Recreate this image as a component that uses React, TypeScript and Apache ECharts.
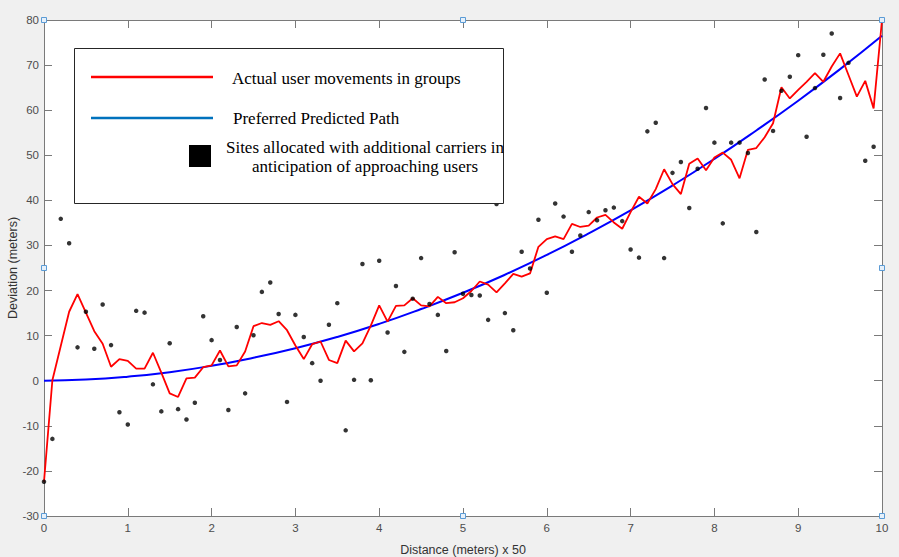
import React, { useEffect, useRef } from "react";
import * as echarts from "echarts";

// Distance (meters) x 50 — sample positions
const distance = [
  0, 0.1, 0.2, 0.3, 0.4, 0.5, 0.6, 0.7, 0.8, 0.9,
  1, 1.1, 1.2, 1.3, 1.4, 1.5, 1.6, 1.7, 1.8, 1.9,
  2, 2.1, 2.2, 2.3, 2.4, 2.5, 2.6, 2.7, 2.8, 2.9,
  3, 3.1, 3.2, 3.3, 3.4, 3.5, 3.6, 3.7, 3.8, 3.9,
  4, 4.1, 4.2, 4.3, 4.4, 4.5, 4.6, 4.7, 4.8, 4.9,
  5, 5.1, 5.2, 5.3, 5.4, 5.5, 5.6, 5.7, 5.8, 5.9,
  6, 6.1, 6.2, 6.3, 6.4, 6.5, 6.6, 6.7, 6.8, 6.9,
  7, 7.1, 7.2, 7.3, 7.4, 7.5, 7.6, 7.7, 7.8, 7.9,
  8, 8.1, 8.2, 8.3, 8.4, 8.5, 8.6, 8.7, 8.8, 8.9,
  9, 9.1, 9.2, 9.3, 9.4, 9.5, 9.6, 9.7, 9.8, 9.9,
  10,
];

// Actual user movements in groups (red)
const actualMovement = [
  -22.4, 0.1, 7.7, 15.3, 19.2, 15.1, 11.0, 8.2, 3.1, 4.8,
  4.4, 2.7, 2.7, 6.2, 1.8, -2.8, -3.6, 0.5, 0.7, 3.0,
  3.4, 6.7, 3.2, 3.4, 6.5, 12.1, 12.8, 12.4, 13.2, 11.2,
  7.8, 4.8, 8.1, 8.7, 4.6, 3.9, 8.9, 6.5, 8.3, 12.2,
  16.7, 13.1, 16.6, 16.7, 18.3, 16.7, 16.5, 18.6, 17.2, 17.4,
  18.3, 19.9, 22.0, 21.3, 19.6, 21.6, 23.7, 23.1, 23.8, 29.7,
  31.4, 32.0, 31.4, 34.8, 34.1, 34.4, 36.2, 36.8, 35.1, 33.7,
  37.4, 40.8, 39.3, 42.5, 46.9, 43.6, 41.4, 48.1, 49.3, 46.7,
  49.5, 50.6, 49.0, 44.9, 51.2, 51.6, 54.0, 57.1, 65.1, 62.6,
  64.5, 66.3, 68.2, 66.3, 69.7, 72.6, 67.8, 63.0, 66.5, 60.4,
  80.0,
];

// Sites allocated with additional carriers (black dots)
const allocatedSites: (number | null)[] = [
  -22.4, -12.9, 35.9, 30.5, 7.4, 15.3, 7.1, 16.9, 7.9, -7.0,
  -9.7, 15.5, 15.1, -0.8, -6.8, 8.3, -6.3, -8.6, -4.9, 14.3,
  9.0, 4.6, -6.5, 11.9, -2.8, 10.1, 19.7, 21.8, 14.8, -4.7,
  14.6, 9.7, 3.9, 0.0, 12.4, 17.2, -11.0, 0.2, 25.9, 0.1,
  26.6, 10.7, 21.0, 6.4, 18.2, 27.2, 17.0, 14.6, 6.6, 28.5,
  19.3, 19.0, 18.9, 13.5, 39.2, 15.0, 11.2, 28.6, 24.9, 35.7,
  19.5, 39.3, 36.4, 28.6, 32.2, 37.4, 35.6, 37.8, 38.4, 35.4,
  29.1, 27.3, 55.3, 57.2, 27.2, 46.1, 48.5, 38.3, 47.0, 60.5,
  52.8, 34.9, 52.8, 52.8, 50.5, 33.0, 66.8, 55.4, 64.3, 67.4,
  72.2, 54.1, 64.9, 72.3, 77.0, 62.7, 70.5, null, 48.8, 51.9,
  null,
];

// Preferred predicted path (blue), read at every 0.5
const predictedDistance = [0, 0.5, 1, 1.5, 2, 2.5, 3, 3.5, 4, 4.5, 5, 5.5, 6, 6.5, 7, 7.5, 8, 8.5, 9, 9.5, 10];
const predictedPath = [0, 0.25, 0.9, 1.9, 3.3, 5.1, 7.2, 9.7, 12.6, 15.9, 19.5, 23.5, 27.9, 32.7, 37.8, 43.3, 49.2, 55.5, 62.1, 69.1, 76.5];

const legendLabels = [
  "Actual user movements in groups",
  "Preferred Predicted Path",
  "Sites allocated with additional carriers in",
  "anticipation of approaching users",
];

const AXIS_COLOR = "#7a7a7a";
const LABEL_COLOR = "#4d4d4d";
const SANS = "'Liberation Sans', Arial, sans-serif";
const SERIF = "'Liberation Serif', 'Times New Roman', serif";

export default function App() {
  const ref = useRef<HTMLDivElement>(null);

  useEffect(() => {
    document.body.style.margin = "0";
    const chart = echarts.init(ref.current!, null, { renderer: "svg" });

    const axisLine = { show: true, onZero: false, lineStyle: { color: AXIS_COLOR, width: 1 } };
    const axisTick = { show: true, inside: true, length: 8, lineStyle: { color: AXIS_COLOR, width: 1 } };

    const handles = [
      [44, 20], [463, 20], [882, 20],
      [44, 268], [882, 268],
      [44, 516], [463, 516], [882, 516],
    ].map(([cx, cy]) => ({
      type: "rect",
      z: 200,
      shape: { x: cx - 2.5, y: cy - 2.5, width: 5, height: 5 },
      style: { fill: "#e6f0fa", stroke: "#5b9bd5", lineWidth: 1 },
    }));

    const textEl = (text: string, x: number, y: number, align: string) => ({
      type: "text",
      z: 101,
      x,
      y,
      style: {
        text,
        fill: "#000",
        font: `17px ${SERIF}`,
        fontSize: 17,
        fontFamily: SERIF,
        align,
        textAlign: align,
        verticalAlign: "middle",
        textVerticalAlign: "middle",
      },
    });

    chart.setOption({
      animation: false,
      backgroundColor: "#f0f0f0",
      textStyle: { fontFamily: SANS },
      grid: {
        left: 44,
        right: 17,
        top: 20,
        bottom: 41,
        containLabel: false,
        outerBoundsMode: "none",
        show: true,
        backgroundColor: "#ffffff",
        borderWidth: 0,
      },
      xAxis: [
        {
          type: "value",
          min: 0,
          max: 10,
          interval: 1,
          position: "bottom",
          axisLine,
          axisTick,
          splitLine: { show: false },
          axisLabel: { color: LABEL_COLOR, fontSize: 11.5, fontFamily: SANS, margin: 6 },
          name: "Distance (meters) x 50",
          nameLocation: "middle",
          nameGap: 27,
          nameTextStyle: { color: "#333", fontSize: 12.5, fontFamily: SANS },
        },
        {
          type: "value",
          min: 0,
          max: 10,
          interval: 1,
          position: "top",
          axisLine,
          axisTick,
          splitLine: { show: false },
          axisLabel: { show: false },
        },
      ],
      yAxis: [
        {
          type: "value",
          min: -30,
          max: 80,
          interval: 10,
          position: "left",
          axisLine,
          axisTick,
          splitLine: { show: false },
          axisLabel: { color: LABEL_COLOR, fontSize: 11.5, fontFamily: SANS, margin: 5 },
          name: "Deviation (meters)",
          nameLocation: "middle",
          nameGap: 25,
          nameMoveOverlap: false,
          nameTextStyle: { color: "#333", fontSize: 12.5, fontFamily: SANS },
        },
        {
          type: "value",
          min: -30,
          max: 80,
          interval: 10,
          position: "right",
          axisLine,
          axisTick,
          splitLine: { show: false },
          axisLabel: { show: false },
        },
      ],
      series: [
        {
          name: "Preferred Predicted Path",
          type: "line",
          xAxisIndex: 0,
          yAxisIndex: 0,
          smooth: true,
          showSymbol: false,
          symbol: "none",
          lineStyle: { color: "#0000ff", width: 2 },
          data: predictedDistance.map((d, i) => [d, predictedPath[i]]),
          z: 2,
        },
        {
          name: "Actual user movements in groups",
          type: "line",
          xAxisIndex: 0,
          yAxisIndex: 0,
          showSymbol: false,
          symbol: "none",
          lineStyle: { color: "#ff0000", width: 1.8 },
          data: distance.map((d, i) => [d, actualMovement[i]]),
          z: 3,
        },
        {
          name: "Sites allocated with additional carriers",
          type: "scatter",
          xAxisIndex: 0,
          yAxisIndex: 0,
          symbol: "circle",
          symbolSize: 4.5,
          itemStyle: { color: "#000" },
          data: distance
            .map((d, i) => [d, allocatedSites[i]])
            .filter((p) => p[1] !== null),
          z: 4,
        },
      ],
      graphic: [
        {
          type: "rect",
          z: 100,
          shape: { x: 74.5, y: 48.5, width: 429, height: 155 },
          style: { fill: "#ffffff", stroke: "#262626", lineWidth: 1 },
        },
        {
          type: "line",
          z: 101,
          shape: { x1: 91, y1: 77, x2: 213, y2: 77 },
          style: { stroke: "#ff0000", lineWidth: 2.5 },
        },
        {
          type: "line",
          z: 101,
          shape: { x1: 91, y1: 118, x2: 213, y2: 118 },
          style: { stroke: "#0072bd", lineWidth: 2.5 },
        },
        {
          type: "rect",
          z: 101,
          shape: { x: 189, y: 145, width: 22, height: 22 },
          style: { fill: "#000000" },
        },
        textEl(legendLabels[0], 232, 78, "left"),
        textEl(legendLabels[1], 233, 118, "left"),
        textEl(legendLabels[2], 365, 147, "center"),
        textEl(legendLabels[3], 365, 166, "center"),
        ...handles,
      ],
    });

    return () => chart.dispose();
  }, []);

  return (
    <div
      ref={ref}
      style={{ position: "absolute", left: 0, top: 0, width: 899, height: 557 }}
    />
  );
}
